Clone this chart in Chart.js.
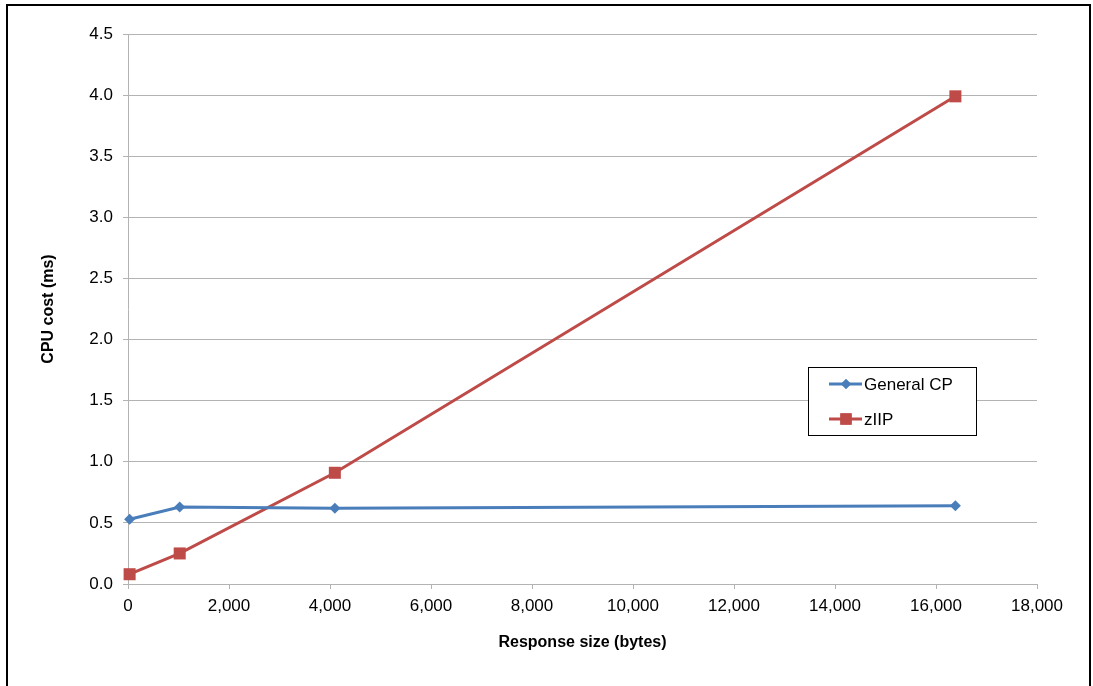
<!DOCTYPE html>
<html>
<head>
<meta charset="utf-8">
<script src="https://cdn.jsdelivr.net/npm/chart.js@4"></script>
<style>
    body { margin: 0; background: #fff; overflow: hidden; }
    #frame { position: absolute; left: 6px; top: 4px; width: 1081px; height: 720px; border: 2px solid #000; }
    #chart { position: absolute; left: 0; top: 0; }
</style>
</head>
<body>
<div id="frame"></div>
<canvas id="chart" width="1093" height="686"></canvas>
<script>
// Response sizes (bytes) and CPU cost (ms)
const sizes = [32, 1024, 4096, 16384];
const generalCP = [0.53, 0.63, 0.62, 0.64];
const zIIP = [0.08, 0.25, 0.91, 3.99];
const seriesNames = ['General CP', 'zIIP'];

const gridGrey = '#b3b3b3';
const fontName = '"Liberation Sans", Arial, sans-serif';

function toPoints(values) {
    return sizes.map((s, i) => ({x: s, y: values[i]}));
}

// Legend drawn as a boxed inset inside the plot, like the original
const insetLegend = {
    id: 'insetLegend',
    afterDraw: (chart) => {
        const ctx = chart.ctx;
        const box = {x: 808.5, y: 367.5, w: 168, h: 68};
        ctx.save();
        ctx.fillStyle = '#fff';
        ctx.fillRect(box.x, box.y, box.w, box.h);
        ctx.strokeStyle = '#000';
        ctx.lineWidth = 1;
        ctx.strokeRect(box.x, box.y, box.w, box.h);
        chart.data.datasets.forEach((ds, i) => {
            let y = 384 + i * 35;
            ctx.strokeStyle = ds.borderColor;
            ctx.lineWidth = 3;
            ctx.beginPath();
            ctx.moveTo(829, y);
            ctx.lineTo(862, y);
            ctx.stroke();
            ctx.fillStyle = ds.backgroundColor;
            Chart.helpers.drawPoint(ctx, {pointStyle: ds.pointStyle, radius: ds.pointRadius - 0.5, borderWidth: 0}, 846, y);
            ctx.fill();
            ctx.fillStyle = '#000';
            ctx.font = '17px ' + fontName;
            ctx.textBaseline = 'middle';
            ctx.fillText(ds.label, 864, y + 1);
        });
        ctx.restore();
    }
};

new Chart(document.getElementById('chart'), {
    type: 'line',
    data: {
        datasets: [
            {label: seriesNames[0], data: toPoints(generalCP), borderColor: '#4a7ebb', backgroundColor: '#4a7ebb',
             borderWidth: 3, pointStyle: 'rectRot', pointRadius: 5.5, pointBorderWidth: 0, clip: false},
            {label: seriesNames[1], data: toPoints(zIIP), borderColor: '#be4b48', backgroundColor: '#be4b48',
             borderWidth: 3, pointStyle: 'rect', pointRadius: 8.5, pointBorderWidth: 0, clip: false}
        ]
    },
    options: {
        responsive: false,
        animation: false,
        events: [],
        layout: {padding: {top: 34, right: 56, left: 0, bottom: 0}},
        plugins: {legend: {display: false}, tooltip: {enabled: false}},
        scales: {
            x: {
                type: 'linear',
                min: 0,
                max: 18000,
                afterFit: (scale) => { scale.height = 102; },
                ticks: {
                    stepSize: 2000,
                    padding: 7,
                    color: '#000',
                    maxRotation: 0,
                    font: {family: fontName, size: 17},
                    callback: (v) => v.toLocaleString('en-US')
                },
                grid: {drawOnChartArea: false, drawTicks: true, tickLength: 5, color: gridGrey},
                border: {color: gridGrey},
                title: {display: true, text: 'Response size (bytes)', color: '#000',
                        font: {family: fontName, size: 16, weight: 'bold'}, padding: {top: 0, bottom: 34}}
            },
            y: {
                min: 0,
                max: 4.5,
                afterFit: (scale) => { scale.width = 128; },
                ticks: {
                    stepSize: 0.5,
                    padding: 10,
                    color: '#000',
                    font: {family: fontName, size: 17},
                    callback: (v) => v.toFixed(1)
                },
                grid: {color: gridGrey, tickLength: 5},
                border: {color: gridGrey},
                title: {display: true, text: 'CPU cost (ms)', color: '#000',
                        font: {family: fontName, size: 16, weight: 'bold'}, padding: {top: 39, bottom: 0}}
            }
        }
    },
    plugins: [insetLegend]
});
</script>
</body>
</html>
